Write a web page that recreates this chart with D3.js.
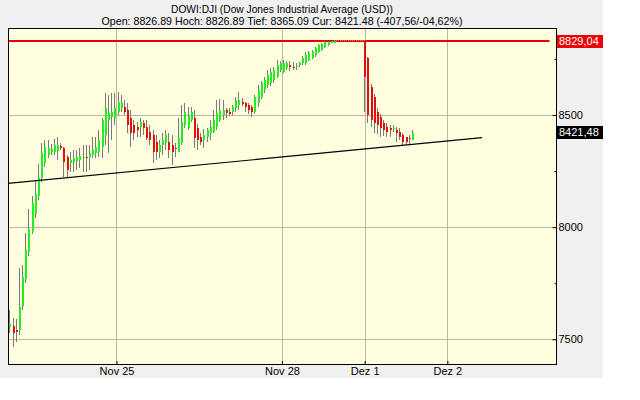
<!DOCTYPE html>
<html><head><meta charset="utf-8">
<script src="https://cdn.jsdelivr.net/npm/d3@7/dist/d3.min.js"></script>
<style>
html,body{margin:0;padding:0;background:#fff;}
svg{display:block;}
text{font-family:"Liberation Sans",Arial,sans-serif;font-size:11px;}
</style></head><body>
<svg id="c" width="640" height="400"></svg>
<script>
// ---- data ----
const titleText = "DOWI:DJI (Dow Jones Industrial Average (USD))";
const statsText = "Open: 8826.89 Hoch: 8826.89 Tief: 8365.09 Cur: 8421.48 (-407,56/-04,62%)";
const dayTicks = [0, 52, 78, 104];               // 15-min slot of each day boundary
const dayLabels = ["Nov 25", "Nov 28", "Dez 1", "Dez 2"];
const yMajor = [7500, 8000, 8500];
const yMinor = [7750, 8250, 8750];
const sessionStart = [-33.5, 78];                // slot of first bar in each block
const sessionBars = [103, 16];
const prevClose = 8829.04;
const lastPrice = 8421.48;
const trendFrom = [-34.1, 8195];
const trendTo = [114.9, 8399];

const open = [
7554,7558,7540,7540,7650,7770,7890,7985,8060,8140,8220,8286,8321,8335,8335,8339,8360,8353,8313,8286,
8290,8295,8299,8308,8313,8313,8321,8330,8335,8357,8411,8478,8491,8487,8513,8531,8536,8522,8487,8455,
8446,8446,8464,8446,8424,8411,8379,8335,8366,8375,8379,8366,8355,8335,8375,8455,8440,8478,8487,8442,
8402,8388,8402,8420,8424,8446,8478,8500,8522,8513,8513,8531,8545,8558,8554,8545,8536,8513,8554,8580,
8612,8634,8643,8656,8670,8701,8692,8710,8722,8716,8714,8723,8732,8732,8746,8754,8768,8781,8790,8803,
8812,8825,8826,
8826.89,8754,8626,8582,8515,8492,8464,8448,8440,8437,8433,8425,8411,8403,8398,8388];
const high = [
7630,7594,7589,7817,7830,7973,8080,8140,8210,8280,8375,8390,8390,8370,8395,8402,8375,8357,8321,8335,
8344,8344,8353,8366,8366,8366,8402,8402,8433,8487,8598,8589,8598,8598,8603,8589,8567,8554,8522,8478,
8469,8487,8478,8478,8455,8433,8411,8388,8420,8433,8420,8411,8375,8487,8545,8554,8536,8536,8522,8460,
8420,8437,8440,8478,8522,8567,8570,8567,8531,8530,8545,8580,8603,8575,8558,8555,8545,8590,8634,8650,
8670,8701,8710,8715,8746,8740,8746,8740,8741,8735,8730,8735,8765,8781,8785,8790,8805,8815,8822,8829,
8829,8829,8829.04,
8826.89,8760,8640,8595,8530,8505,8480,8464,8455,8455,8446,8442,8420,8403,8411,8433];
const low = [
7527,7464,7487,7518,7630,7750,7870,7970,8040,8120,8200,8270,8310,8320,8320,8299,8345,8223,8223,8246,
8246,8254,8263,8246,8246,8254,8308,8308,8313,8308,8366,8330,8388,8455,8500,8513,8500,8420,8357,8388,
8402,8402,8411,8388,8366,8286,8299,8308,8321,8344,8308,8277,8313,8335,8366,8442,8433,8469,8353,8344,
8366,8353,8380,8388,8420,8433,8470,8478,8487,8495,8500,8513,8522,8540,8513,8505,8491,8505,8536,8570,
8600,8620,8630,8645,8665,8690,8687,8700,8696,8700,8700,8715,8725,8725,8740,8750,8760,8775,8785,8800,
8808,8820,8822,
8515,8464,8448,8420,8415,8403,8406,8403,8400,8424,8381,8388,8365.09,8366,8366,8388];
const close = [
7567,7527,7536,7643,7780,7900,7990,8107,8150,8220,8330,8357,8353,8350,8366,8366,8355,8290,8254,8299,
8308,8313,8317,8313,8312,8330,8344,8357,8388,8478,8531,8509,8513,8531,8558,8554,8513,8455,8420,8420,
8433,8469,8442,8397,8388,8335,8335,8366,8388,8411,8344,8335,8350,8397,8469,8513,8495,8513,8397,8388,
8379,8411,8433,8446,8478,8509,8522,8522,8509,8512,8536,8567,8567,8549,8536,8522,8513,8580,8612,8643,
8656,8679,8692,8701,8723,8732,8732,8732,8714,8712,8719,8732,8754,8768,8777,8781,8799,8812,8817,8826,
8826,8828,8829.04,
8670,8500,8478,8464,8455,8442,8433,8425,8435,8444,8420,8403,8381,8381,8395,8421.48];

// ---- layout ----
const P = {l: 8, r: 556.5, t: 28, b: 364};
const svg = d3.select("#c");

// bar slots
const slots = [];
sessionStart.forEach((s, k) => { for (let j = 0; j < sessionBars[k]; j++) slots.push(s + j); });
const bars = open.map((o, i) => ({slot: slots[i], o, h: high[i], l: low[i], c: close[i]}));

const x = d3.scaleLinear().domain([-34.1, 138.3]).range([P.l, P.r]);
const y = d3.scaleLinear().domain([7390, 8888]).range([P.b, P.t]);

// backgrounds
svg.append("rect").attr("x", 0).attr("y", 0).attr("width", 603).attr("height", 378).attr("fill", "#f0f0f0");
svg.append("rect").attr("x", P.l).attr("y", P.t).attr("width", P.r - P.l).attr("height", P.b - P.t).attr("fill", "#ffffe0");

// titles
svg.append("text").attr("x", 282).attr("y", 13).attr("text-anchor", "middle").attr("fill", "#000")
  .attr("textLength", 222).attr("lengthAdjust", "spacingAndGlyphs").text(titleText);
svg.append("text").attr("x", 282).attr("y", 25).attr("text-anchor", "middle").attr("fill", "#000")
  .attr("textLength", 361).attr("lengthAdjust", "spacingAndGlyphs").text(statsText);

// grid
const grid = svg.append("g").attr("stroke", "#b8b8a4").attr("stroke-width", 1).attr("shape-rendering", "crispEdges");
yMajor.forEach(v => grid.append("line").attr("x1", P.l).attr("x2", P.r).attr("y1", Math.round(y(v)) + 0.5).attr("y2", Math.round(y(v)) + 0.5));
dayTicks.forEach(v => grid.append("line").attr("y1", P.t).attr("y2", P.b).attr("x1", Math.round(x(v)) + 0.5).attr("x2", Math.round(x(v)) + 0.5));

// previous close line
const pcY = Math.round(y(prevClose));
svg.append("rect").attr("x", P.l).attr("y", pcY - 1).attr("width", P.r - 7 - P.l).attr("height", 2)
  .attr("fill", "#e80000");
// gap dotted line (half day close to next open)
const lastPre = bars[sessionBars[0] - 1];
svg.append("line").attr("x1", x(lastPre.slot)).attr("x2", x(sessionStart[1])).attr("y1", pcY - 0.5).attr("y2", pcY - 0.5)
  .attr("stroke", "#c89a30").attr("stroke-dasharray", "1,1").attr("shape-rendering", "crispEdges");

// candles
const cg = svg.append("g").attr("shape-rendering", "crispEdges");
cg.selectAll("line.w").data(bars).join("line").attr("class", "w")
  .attr("x1", d => Math.floor(x(d.slot)) + 0.5).attr("x2", d => Math.floor(x(d.slot)) + 0.5)
  .attr("y1", d => y(d.h)).attr("y2", d => y(d.l)).attr("stroke", "#7a7a7a").attr("stroke-width", 1);
cg.selectAll("rect.b").data(bars).join("rect").attr("class", "b")
  .attr("x", d => Math.floor(x(d.slot)))
  .attr("width", 2)
  .attr("y", d => y(Math.max(d.o, d.c)))
  .attr("height", d => Math.max(1.5, Math.abs(y(d.o) - y(d.c))))
  .attr("fill", d => d.c >= d.o ? "#22ee22" : "#e01010");

// trend line
svg.append("line").attr("x1", x(trendFrom[0])).attr("y1", y(trendFrom[1])).attr("x2", x(trendTo[0])).attr("y2", y(trendTo[1]))
  .attr("stroke", "#000").attr("stroke-width", 1.2);

// border
svg.append("rect").attr("x", P.l + 0.5).attr("y", P.t + 0.5).attr("width", P.r - P.l - 0.5).attr("height", P.b - P.t - 0.5)
  .attr("fill", "none").attr("stroke", "#000").attr("stroke-width", 1).attr("shape-rendering", "crispEdges");

// y axis (right)
const ya = svg.append("g").attr("transform", `translate(${P.r},0)`)
  .call(d3.axisRight(y).tickValues(yMajor).tickFormat(d3.format("d")).tickSizeInner(-4).tickSizeOuter(0).tickPadding(2));
ya.select(".domain").remove();
ya.selectAll("text").attr("fill", "#000").style("font-size", "11px");
ya.selectAll("line").attr("stroke", "#000");
const ym = svg.append("g").attr("transform", `translate(${P.r},0)`)
  .call(d3.axisRight(y).tickValues(yMinor).tickFormat("").tickSizeInner(-2).tickSizeOuter(0));
ym.select(".domain").remove();
ym.selectAll("line").attr("stroke", "#000");

// x axis
const xa = svg.append("g").attr("transform", `translate(0,${P.b})`)
  .call(d3.axisBottom(x).tickValues(dayTicks).tickFormat((d, i) => dayLabels[i]).tickSizeInner(-3).tickSizeOuter(0).tickPadding(3));
xa.select(".domain").remove();
xa.selectAll("text").attr("fill", "#000").style("font-size", "11px");
xa.selectAll("line").attr("stroke", "#000");

// value boxes
const fmt = v => v.toFixed(2).replace(".", ",");
[[prevClose, "#ee0000"], [lastPrice, "#000000"]].forEach(([v, col]) => {
  const cy = y(v);
  svg.append("rect").attr("x", 557).attr("y", Math.round(cy - 6.5)).attr("width", 46).attr("height", 13).attr("fill", col);
  svg.append("text").attr("x", 559).attr("y", cy).attr("dy", "0.35em").attr("fill", "#fff").text(fmt(v));
});
</script>
</body></html>
